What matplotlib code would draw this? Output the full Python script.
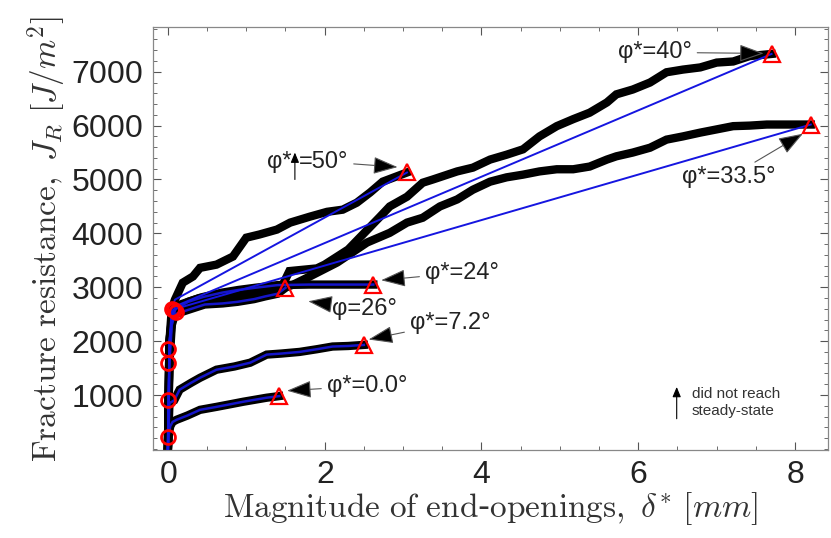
import matplotlib
matplotlib.use("Agg")
import matplotlib.pyplot as plt
from matplotlib.ticker import MultipleLocator

plt.rcParams["mathtext.fontset"] = "cm"
plt.rcParams["axes.formatter.use_mathtext"] = True

# Fracture resistance curves J_R vs end-opening magnitude for each mode-mixity angle
d_00 = [0, 0.01, 0.03, 0.06, 0.11, 0.25, 0.41, 0.62, 0.80, 0.96, 1.10, 1.26, 1.42]
J_00 = [0, 250, 420, 500, 540, 620, 725, 780, 830, 875, 910, 950, 980]

d_72 = [0, 0.02, 0.08, 0.15, 0.30, 0.41, 0.62, 0.85, 1.05, 1.26, 1.45, 1.68, 1.90, 2.10, 2.30, 2.50]
J_72 = [0, 850, 900, 1100, 1230, 1320, 1470, 1530, 1600, 1750, 1770, 1800, 1850, 1900, 1910, 1930]

d_24 = [0, 0.02, 0.05, 0.10, 0.26, 0.45, 0.69, 0.90, 1.11, 1.40, 1.80, 2.20, 2.62]
J_24 = [0, 1800, 2400, 2600, 2730, 2820, 2900, 2950, 2990, 3040, 3050, 3050, 3050]

d_26 = [0, 0.02, 0.05, 0.09, 0.30, 0.47, 0.70, 0.89, 1.10, 1.24, 1.40, 1.50]
J_26 = [0, 1600, 2300, 2500, 2600, 2680, 2700, 2730, 2780, 2830, 2880, 2990]

d_50 = [0, 0.02, 0.05, 0.09, 0.19, 0.32, 0.41, 0.62, 0.83, 1.00, 1.17, 1.39, 1.56,
        1.81, 2.03, 2.23, 2.41, 2.58, 2.74, 3.05]
J_50 = [0, 2000, 2600, 2770, 3085, 3200, 3360, 3420, 3570, 3920, 3980, 4070, 4200,
        4310, 4400, 4440, 4570, 4760, 4960, 5130]

d_40 = [0, 0.02, 0.06, 0.10, 0.40, 0.80, 1.20, 1.45, 1.55, 1.90, 2.00, 2.30, 2.50,
        2.70, 2.83, 3.05, 3.25, 3.38, 3.69, 3.89, 4.11, 4.32, 4.53, 4.74, 4.96,
        5.17, 5.38, 5.60, 5.72, 5.93, 6.15, 6.36, 6.57, 6.79, 7.00, 7.21, 7.42, 7.70]
J_40 = [0, 2000, 2550, 2650, 2800, 2900, 2950, 3000, 3300, 3350, 3420, 3700, 4000,
        4300, 4500, 4680, 4940, 5000, 5150, 5220, 5370, 5460, 5560, 5800, 5990,
        6120, 6240, 6430, 6580, 6670, 6800, 6990, 7040, 7080, 7170, 7190, 7290, 7330]

d_335 = [0, 0.02, 0.06, 0.10, 0.50, 1.00, 1.40, 1.60, 1.81, 2.16, 2.54, 2.83, 3.05,
         3.25, 3.47, 3.69, 3.89, 4.11, 4.32, 4.53, 4.74, 4.96, 5.17, 5.38, 5.60,
         5.72, 5.93, 6.15, 6.36, 6.57, 6.79, 7.00, 7.21, 7.42, 7.64, 7.84, 8.20]
J_335 = [0, 2000, 2500, 2600, 2750, 2850, 2950, 3050, 3200, 3460, 3830, 4010, 4200,
         4290, 4500, 4630, 4810, 4960, 5040, 5090, 5150, 5190, 5190, 5240, 5370,
         5430, 5500, 5590, 5740, 5800, 5870, 5930, 5990, 6000, 6020, 6020, 6020]

# Crack-initiation points (open circles)
init_d = [0.0, 0.0, 0.0, 0.0, 0.05, 0.08, 0.10]
init_J = [230, 900, 1850, 1600, 2600, 2580, 2550]

# Index of the knee point used for the straight secant fit
series = [
    (d_00, J_00, None), (d_72, J_72, None), (d_24, J_24, None), (d_26, J_26, None),
    (d_50, J_50, 3), (d_40, J_40, 3), (d_335, J_335, 3),
]

fig = plt.figure(figsize=(8.31, 5.38), dpi=100)
ax = fig.add_axes([0.1841, 0.1636, 0.8123, 0.7862])

for d, J, knee in series:
    ax.plot(d, J, color="black", lw=6, solid_joinstyle="miter", zorder=2)
for d, J, knee in series:
    if knee is None:
        ax.plot(d, J, color="#1515c8", lw=1.8, zorder=3)
    else:
        ax.plot(d[:knee + 1] + [d[-1]], J[:knee + 1] + [J[-1]], color="#1515e0", lw=1.4, zorder=3)

ax.plot(init_d, init_J, "o", ms=10, mfc="none", mec="red", mew=2.0, zorder=4)
end_d = [s[0][-1] for s in series]
end_J = [s[1][-1] for s in series]
ax.plot(end_d, end_J, "^", ms=11, mfc="none", mec="red", mew=1.6, zorder=4)

ax.set_xlim(-0.19, 8.42)
ax.set_ylim(-20, 7830)
ax.set_xticks([0, 2, 4, 6, 8])
ax.set_yticks([1000, 2000, 3000, 4000, 5000, 6000, 7000])
ax.xaxis.set_minor_locator(MultipleLocator(0.5))
ax.yaxis.set_minor_locator(MultipleLocator(200))
ax.tick_params(which="both", direction="in", top=True, right=True, colors="#555555")
ax.tick_params(which="major", length=6, width=0.8, labelsize=23, labelcolor="#222222", pad=7)
ax.tick_params(which="minor", length=3, width=0.6)
for lab in ax.get_xticklabels() + ax.get_yticklabels():
    lab.set_family("Liberation Sans")
for sp in ax.spines.values():
    sp.set_color("#888888")
    sp.set_linewidth(0.9)

ax.set_xlabel(r"$\mathrm{Magnitude\ of\ end}$-$\mathrm{openings,}\ \delta^{*}\ [mm]$",
              fontsize=24, color="#333333", labelpad=0)
ax.set_ylabel(r"$\mathrm{Fracture\ resistance,}\ J_R\ [J/m^2]$",
              fontsize=24, color="#333333", labelpad=2)

arrow_kw = dict(arrowstyle="-|>,head_length=0.9,head_width=0.32", fc="black",
                ec="#555555", lw=0.8, shrinkA=2, shrinkB=0)
tfont = dict(family="Liberation Sans", fontsize=17, color="#222222")

ax.annotate("φ*=40°", xy=(7.6, 7340), xytext=(6.21, 7360), va="center", ha="center",
            arrowprops=arrow_kw, **tfont)
ax.annotate("φ*=33.5°", xy=(8.1, 5850), xytext=(7.16, 5040), va="center", ha="center",
            arrowprops=arrow_kw, **tfont)
ax.annotate("φ*=24°", xy=(2.72, 3130), xytext=(3.75, 3270), va="center", ha="center",
            arrowprops=arrow_kw, **tfont)
ax.annotate("φ=26°", xy=(1.79, 2740), xytext=(2.51, 2600), va="center", ha="center",
            arrowprops=arrow_kw, **tfont)
ax.annotate("φ*=7.2°", xy=(2.56, 2030), xytext=(3.6, 2340), va="center", ha="center",
            arrowprops=arrow_kw, **tfont)
ax.annotate("φ*=0.0°", xy=(1.52, 1080), xytext=(2.54, 1170), va="center", ha="center",
            arrowprops=arrow_kw, **tfont)
ax.annotate("=50°", xy=(2.93, 5230), xytext=(1.67, 5330), va="center", ha="left",
            arrowprops=arrow_kw, **tfont)
ax.text(1.58, 5330, "φ*", va="center", ha="right", **tfont)

small_arrow = dict(arrowstyle="-|>,head_length=0.6,head_width=0.25", color="black",
                   lw=0.8, shrinkA=0, shrinkB=0)
ax.annotate("", xy=(1.62, 5500), xytext=(1.62, 5000), arrowprops=small_arrow)
ax.annotate("", xy=(6.49, 1150), xytext=(6.49, 560), arrowprops=small_arrow)
ax.text(6.68, 860, "did not reach\nsteady-state", va="center", ha="left",
        family="Liberation Sans", fontsize=11, color="#333333", linespacing=1.3)

fig.savefig("out.png", dpi=100)
